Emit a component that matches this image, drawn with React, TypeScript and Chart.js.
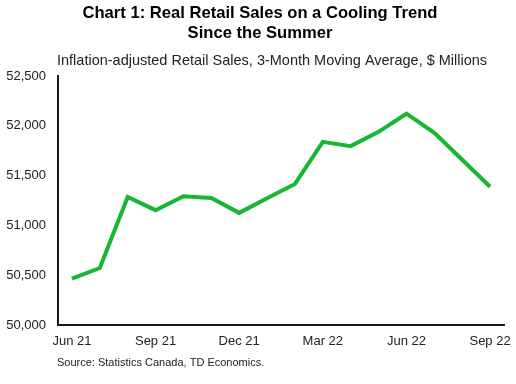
import React, { useEffect, useRef } from "react";
import { Chart, registerables } from "chart.js";

Chart.register(...registerables);

const months = [
  "Jun 21", "Jul 21", "Aug 21", "Sep 21", "Oct 21", "Nov 21", "Dec 21",
  "Jan 22", "Feb 22", "Mar 22", "Apr 22", "May 22", "Jun 22", "Jul 22", "Aug 22", "Sep 22",
];
const retailSales = [
  50470, 50575, 51288, 51155, 51295, 51278, 51128,
  51275, 51418, 51840, 51797, 51940, 52122, 51930, 51660, 51390,
];
const titleLines = ["Chart 1: Real Retail Sales on a Cooling Trend", "Since the Summer"];
const subtitleText = "Inflation-adjusted Retail Sales, 3-Month Moving Average, $ Millions";
const sourceText = "Source: Statistics Canada, TD Economics.";

const FONT = "'Liberation Sans', Arial, sans-serif";

const textPlugin = {
  id: "textPlugin",
  afterDraw(chart: any) {
    const ctx = chart.ctx;
    ctx.save();
    ctx.fillStyle = "#000";
    ctx.textBaseline = "middle";
    ctx.textAlign = "center";
    ctx.font = `bold 16.6px ${FONT}`;
    ctx.fillText(titleLines[0], 260, 13);
    ctx.fillText(titleLines[1], 260, 33);
    ctx.textAlign = "left";
    ctx.font = `14.5px ${FONT}`;
    ctx.fillStyle = "#222";
    ctx.fillText(subtitleText, 57, 61);
    ctx.font = `11px ${FONT}`;
    ctx.fillText(sourceText, 57, 363);
    ctx.restore();
  },
};

export default function App() {
  const ref = useRef<HTMLCanvasElement>(null);
  useEffect(() => {
    document.body.style.margin = "0";
    const chart = new Chart(ref.current!, {
      type: "line",
      data: {
        labels: months,
        datasets: [
          {
            data: retailSales,
            borderColor: "#17b733",
            borderWidth: 4,
            pointRadius: 0,
            tension: 0,
            fill: false,
          },
        ],
      },
      options: {
        responsive: false,
        animation: false,
        layout: { padding: { top: 76, right: 12, bottom: 27, left: 0 } },
        plugins: { legend: { display: false }, tooltip: { enabled: false } },
        scales: {
          x: {
            offset: true,
            grid: { display: false, drawTicks: false },
            border: { display: true, color: "#1a1a0e", width: 2 },
            afterFit: (s: any) => { s.paddingRight = 0; },
            ticks: {
              autoSkip: false,
              maxRotation: 0,
              padding: 8,
              color: "#222",
              font: { family: FONT, size: 13 },
              callback: (v: any, i: number) => (i % 3 === 0 ? months[i] : ""),
            },
          },
          y: {
            min: 50000,
            max: 52500,
            grid: { display: false, drawTicks: false },
            border: { display: true, color: "#1a1a0e", width: 2 },
            afterFit: (s: any) => { s.width = 58; },
            ticks: {
              stepSize: 500,
              padding: 12,
              color: "#222",
              font: { family: FONT, size: 13 },
              callback: (v: any) => Number(v).toLocaleString("en-US"),
            },
          },
        },
      },
      plugins: [textPlugin],
    });
    return () => chart.destroy();
  }, []);
  return (
    <div style={{ width: 516, height: 384, background: "#fff" }}>
      <canvas ref={ref} width={516} height={384} />
    </div>
  );
}
